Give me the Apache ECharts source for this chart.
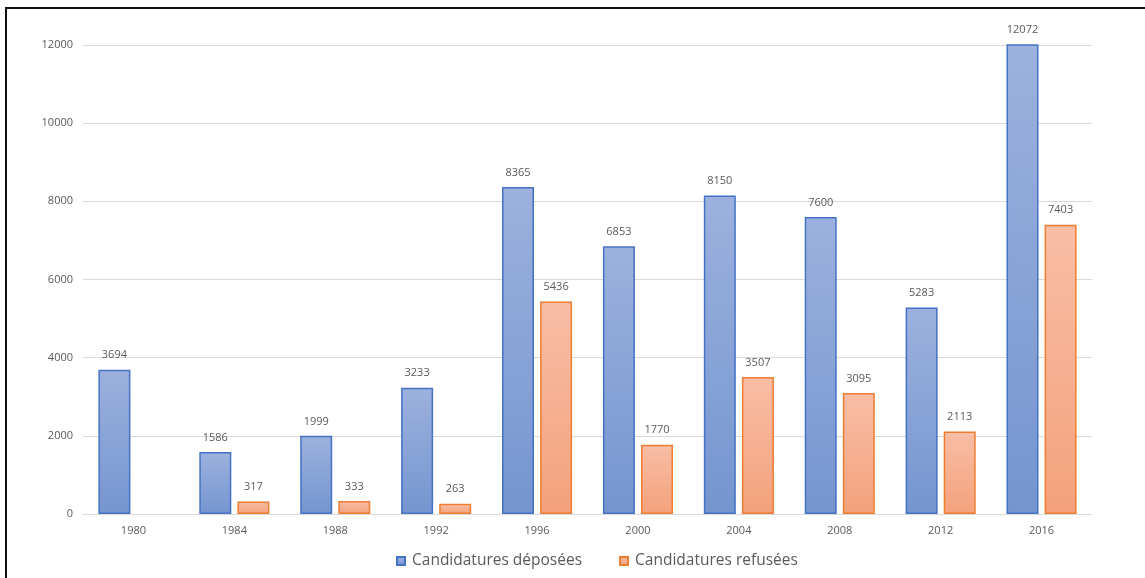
<!DOCTYPE html>
<html>
<head>
<meta charset="utf-8">
<script src="https://cdn.jsdelivr.net/npm/echarts@6/dist/echarts.min.js"></script>
<style>
  html, body { margin: 0; padding: 0; background: #fff; }
  #chart { width: 1145px; height: 578px; }
</style>
</head>
<body>
<div id="chart"></div>
<script>
// Candidatures par année
const years = ['1980', '1984', '1988', '1992', '1996', '2000', '2004', '2008', '2012', '2016'];
const deposees = [3694, 1586, 1999, 3233, 8365, 6853, 8150, 7600, 5283, 12072];
const refusees = [null, 317, 333, 263, 5436, 1770, 3507, 3095, 2113, 7403];

const textColor = '#595959';
const fontFamily = '"Open Sans", "Noto Sans", sans-serif';

function grad(top, bottom) {
  return new echarts.graphic.LinearGradient(0, 0, 0, 1, [
    { offset: 0, color: top },
    { offset: 1, color: bottom }
  ]);
}

const chart = echarts.init(document.getElementById('chart'), null, { renderer: 'canvas' });

const labelStyle = {
  show: true,
  position: 'top',
  distance: 9,
  color: textColor,
  fontSize: 11,
  fontFamily: fontFamily
};

chart.setOption({
  animation: false,
  backgroundColor: '#fff',
  textStyle: { fontFamily: fontFamily },
  grid: { left: 83, right: 53, top: 45, bottom: 64, containLabel: false },
  legend: {
    bottom: 4,
    left: 391,
    itemWidth: 8,
    itemHeight: 8,
    itemGap: 37,
    icon: 'rect',
    textStyle: { color: textColor, fontSize: 15.5, fontFamily: fontFamily, padding: [0, 0, 0, 2] }
  },
  xAxis: {
    type: 'category',
    data: years,
    axisLine: { lineStyle: { color: '#d9d9d9', width: 1 } },
    axisTick: { show: false },
    axisLabel: { color: textColor, fontSize: 11, margin: 11 }
  },
  yAxis: {
    type: 'value',
    min: 0,
    max: 12000,
    interval: 2000,
    axisLine: { show: false },
    axisTick: { show: false },
    axisLabel: { color: textColor, fontSize: 11, margin: 10, formatter: (v) => String(v) },
    splitLine: { lineStyle: { color: '#d9d9d9', width: 1 } }
  },
  series: [
    {
      name: 'Candidatures déposées',
      type: 'bar',
      data: deposees,
      barWidth: 32,
      barGap: '19%',
      itemStyle: {
        color: grad('#9cb1de', '#7595cf'),
        borderColor: '#4472c4',
        borderWidth: 1.5
      },
      label: labelStyle
    },
    {
      name: 'Candidatures refusées',
      type: 'bar',
      data: refusees,
      barWidth: 32,
      barGap: '19%',
      itemStyle: {
        color: grad('#f8bea5', '#f4a17c'),
        borderColor: '#ed7d31',
        borderWidth: 1.5
      },
      label: labelStyle
    }
  ],
  graphic: [
    // frame lines along the top and left edges
    { type: 'line', shape: { x1: 5, y1: 8, x2: 1145, y2: 8 }, style: { stroke: '#111', lineWidth: 2 } },
    { type: 'line', shape: { x1: 6, y1: 7, x2: 6, y2: 578 }, style: { stroke: '#111', lineWidth: 2 } }
  ]
});
</script>
</body>
</html>
